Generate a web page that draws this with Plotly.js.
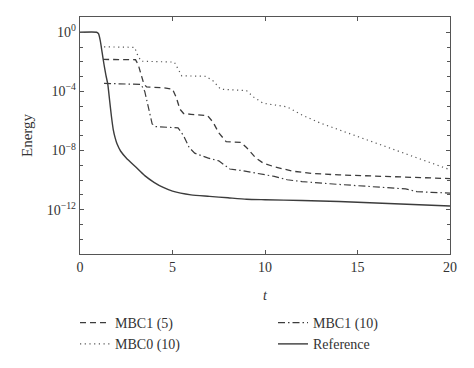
<!DOCTYPE html>
<html>
<head>
<meta charset="utf-8">
<script src="https://cdn.plot.ly/plotly-3.0.1.min.js"></script>
<style>html,body{margin:0;padding:0;background:#fff;}#chart{width:474px;height:368px;}</style>
</head>
<body>
<div id="chart"></div>
<script>
// Energy values stored as base-10 exponents
var refT    = [0, 0.9, 1.0, 1.1, 1.2, 1.3, 1.4, 1.5, 1.6, 1.7, 1.8, 1.9, 2.0, 2.2, 2.5, 3.0, 3.5, 4.0, 4.5, 5.0, 6.0, 7.0, 8.0, 9.0, 10, 12, 14, 16, 18, 20];
var refLogE = [0, 0, -0.1, -0.6, -1.4, -2.2, -2.9, -3.5, -4.6, -5.7, -6.6, -7.15, -7.55, -8.05, -8.5, -9.1, -9.7, -10.15, -10.5, -10.75, -11.0, -11.1, -11.2, -11.3, -11.33, -11.38, -11.45, -11.55, -11.65, -11.75];

var mbc15T    = [1.25, 3.0, 3.15, 3.3, 3.45, 3.6, 4.5, 5.0, 5.2, 5.4, 5.6, 6.0, 6.9, 7.2, 7.5, 7.9, 8.7, 9.0, 9.5, 9.9, 10.5, 11.5, 12.5, 14, 16, 18, 20];
var mbc15LogE = [-1.84, -1.86, -2.2, -2.8, -3.5, -3.7, -3.75, -3.85, -4.4, -5.2, -5.5, -5.55, -5.65, -6.1, -6.8, -7.4, -7.45, -7.8, -8.5, -8.85, -9.1, -9.4, -9.55, -9.65, -9.75, -9.82, -9.9];

var mbc110T    = [1.3, 3.3, 3.5, 3.7, 3.9, 4.1, 5.3, 5.6, 5.9, 6.2, 6.9, 7.5, 8.1, 8.7, 9.9, 10.5, 11.2, 12, 13.5, 15, 17, 17.6, 18.2, 19, 20];
var mbc110LogE = [-3.46, -3.53, -4.0, -5.2, -6.2, -6.38, -6.47, -7.0, -7.8, -8.18, -8.5, -8.7, -9.25, -9.35, -9.64, -9.75, -9.98, -10.1, -10.25, -10.4, -10.55, -10.6, -10.78, -10.83, -10.88];

var mbc010T    = [1.3, 2.95, 3.1, 3.3, 5.1, 5.3, 5.5, 6.8, 7.2, 7.6, 9.0, 9.4, 9.9, 11.2, 12, 13, 14, 15, 16, 17, 18, 19, 20];
var mbc010LogE = [-0.99, -1.02, -1.5, -1.96, -2.02, -2.5, -2.95, -2.98, -3.3, -3.85, -3.95, -4.4, -4.8, -5.05, -5.6, -6.15, -6.6, -7.05, -7.5, -7.95, -8.35, -8.8, -9.3];

var names = ["MBC1 (5)", "MBC1 (10)", "MBC0 (10)", "Reference"];
var yTickExp = [0, -4, -8, -12];
var yMinorExp = [1, 0, -1, -2, -3, -4, -5, -6, -7, -8, -9, -10, -11, -12, -13, -14, -15];
var xTicks = [0, 5, 10, 15, 20];

function toE(a){ return a.map(function(v){ return Math.pow(10, v); }); }

var lc = '#3c3c3c';
var traces = [
  {x: mbc15T, y: toE(mbc15LogE), name: names[0], mode: 'lines', line: {color: lc, width: 1.3, dash: '6px,4px'}},
  {x: mbc110T, y: toE(mbc110LogE), name: names[1], mode: 'lines', line: {color: lc, width: 1.2, dash: '7px,3px,1.5px,3px'}},
  {x: mbc010T, y: toE(mbc010LogE), name: names[2], mode: 'lines', line: {color: '#555', width: 1.2, dash: '1.2px,3.5px'}},
  {x: refT, y: toE(refLogE), name: names[3], mode: 'lines', line: {color: lc, width: 1.4, shape: 'spline', smoothing: 0.6}}
];

var fontFam = '"Liberation Serif", "DejaVu Serif", serif';
var layout = {
  width: 474, height: 368,
  margin: {l: 80, r: 24, t: 17, b: 114, autoexpand: false},
  paper_bgcolor: '#fff', plot_bgcolor: '#fff',
  font: {family: fontFam, size: 14, color: '#333'},
  showlegend: true,
  legend: {
    orientation: 'h', x: -0.0135, xanchor: 'left', y: -0.224, yanchor: 'top',
    entrywidth: 153, entrywidthmode: 'pixels', traceorder: 'normal',
    font: {family: fontFam, size: 14, color: '#333'}, bgcolor: 'rgba(0,0,0,0)'
  },
  xaxis: {
    range: [0, 20], tickmode: 'array', tickvals: xTicks, ticktext: xTicks.map(String),
    ticks: 'inside', ticklen: 4, tickcolor: '#555', tickwidth: 1,
    showline: true, linecolor: '#555', linewidth: 1.2, mirror: 'ticks',
    showgrid: false, zeroline: false,
    tickfont: {family: fontFam, size: 14, color: '#333'},
    title: {text: '<i>t</i>', font: {family: fontFam, size: 14, color: '#333'}, standoff: 16}
  },
  yaxis: {
    type: 'log', range: [-15, 1.03],
    tickmode: 'array', tickvals: yTickExp.map(function(e){return Math.pow(10, e);}),
    ticktext: yTickExp.map(function(e){ return '10<sup>' + (e < 0 ? '\u2212' + (-e) : e) + '</sup>'; }),
    ticks: 'inside', ticklen: 4, tickcolor: '#555', tickwidth: 1,
    minor: {tickmode: 'array', tickvals: yMinorExp.map(function(e){return Math.pow(10, e);}), ticks: 'inside', ticklen: 3, tickcolor: '#555', showgrid: false},
    showline: true, linecolor: '#555', linewidth: 1.2, mirror: 'ticks',
    showgrid: false, zeroline: false,
    tickfont: {family: fontFam, size: 14, color: '#333'},
    title: {text: 'Energy', font: {family: fontFam, size: 15, color: '#333'}, standoff: 10}
  }
};

Plotly.newPlot('chart', traces, layout, {displayModeBar: false, staticPlot: true});
</script>
</body>
</html>
